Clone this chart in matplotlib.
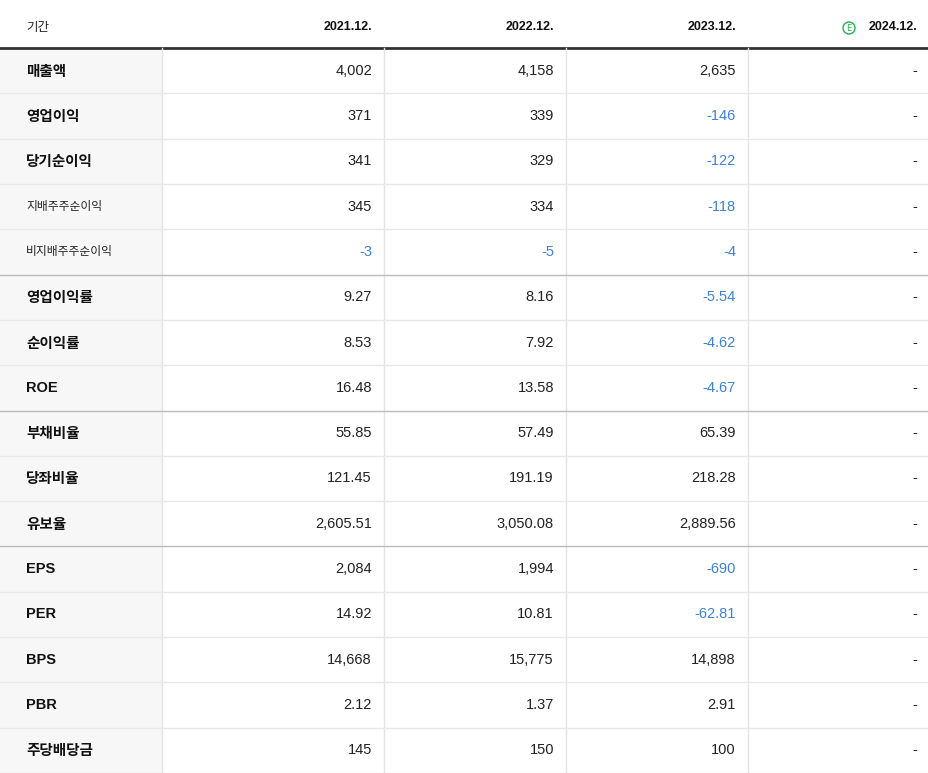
import matplotlib.pyplot as plt
from matplotlib.patches import Rectangle, Circle

CJK = ["Noto Sans CJK JP", "Noto Sans CJK KR", "Noto Sans CJK SC", "DejaVu Sans"]
plt.rcParams["font.family"] = CJK

periods = ["2021.12.", "2022.12.", "2023.12.", "2024.12."]
row_labels = ["매출액", "영업이익", "당기순이익", "지배주주순이익", "비지배주주순이익",
              "영업이익률", "순이익률", "ROE", "부채비율", "당좌비율", "유보율",
              "EPS", "PER", "BPS", "PBR", "주당배당금"]
col_2021 = ["4,002", "371", "341", "345", "-3", "9.27", "8.53", "16.48", "55.85",
            "121.45", "2,605.51", "2,084", "14.92", "14,668", "2.12", "145"]
col_2022 = ["4,158", "339", "329", "334", "-5", "8.16", "7.92", "13.58", "57.49",
            "191.19", "3,050.08", "1,994", "10.81", "15,775", "1.37", "150"]
col_2023 = ["2,635", "-146", "-122", "-118", "-4", "-5.54", "-4.62", "-4.67", "65.39",
            "218.28", "2,889.56", "-690", "-62.81", "14,898", "2.91", "100"]
col_2024 = ["-"] * 16
small_labels = {"지배주주순이익", "비지배주주순이익"}
group_ends = [4, 7, 10]

W, H = 929, 773
fig = plt.figure(figsize=(W / 100, H / 100), dpi=100)
ax = fig.add_axes([0, 0, 1, 1])
ax.set_xlim(0, W)
ax.set_ylim(H, 0)
ax.axis("off")

col_edges = [162, 384, 566, 748, W]
top = 48
rh = (H - top) / len(row_labels)
blue = "#3b82d6"

# header
ax.text(26, 27, "기간", fontsize=9, va="center", color="#222")
for i, p in enumerate(periods):
    x = col_edges[i + 1] - 12
    ax.text(x, 27, p, fontsize=9, fontweight="bold", ha="right", va="center",
            family="Liberation Sans", color="#111")
ax.add_patch(Circle((849, 28), 6, fill=False, ec="#22b14c", lw=1))
ax.text(849, 28.5, "E", fontsize=6, ha="center", va="center", color="#22b14c",
        family="DejaVu Sans")
ax.plot([0, W], [top, top], color="#333", lw=2)

ax.add_patch(Rectangle((0, top), col_edges[0], H - top, color="#f7f7f7", zorder=0))
for x in col_edges[:-1]:
    ax.plot([x, x], [top, H], color="#e4e4e4", lw=1)

cols = [col_2021, col_2022, col_2023, col_2024]
for r, lab in enumerate(row_labels):
    yc = top + rh * (r + 0.5)
    yb = top + rh * (r + 1)
    lc = "#bbb" if r in group_ends else "#e8e8e8"
    ax.plot([0, W], [yb, yb], color=lc, lw=1)
    if lab in small_labels:
        ax.text(26, yc, lab, fontsize=8.5, va="center", color="#222")
    elif lab.isascii():
        ax.text(26, yc, lab, fontsize=10.5, fontweight="bold", va="center", color="#111",
                family="Liberation Sans")
    else:
        ax.text(26, yc, lab, fontsize=10.5, fontweight="bold", va="center", color="#111")
    for c, vals in enumerate(cols):
        v = vals[r]
        color = blue if v.startswith("-") and v != "-" else "#222"
        ax.text(col_edges[c + 1] - 12, yc, v, fontsize=10.5, ha="right", va="center",
                color=color, family="Liberation Sans")

fig.savefig("out.png", dpi=100)
